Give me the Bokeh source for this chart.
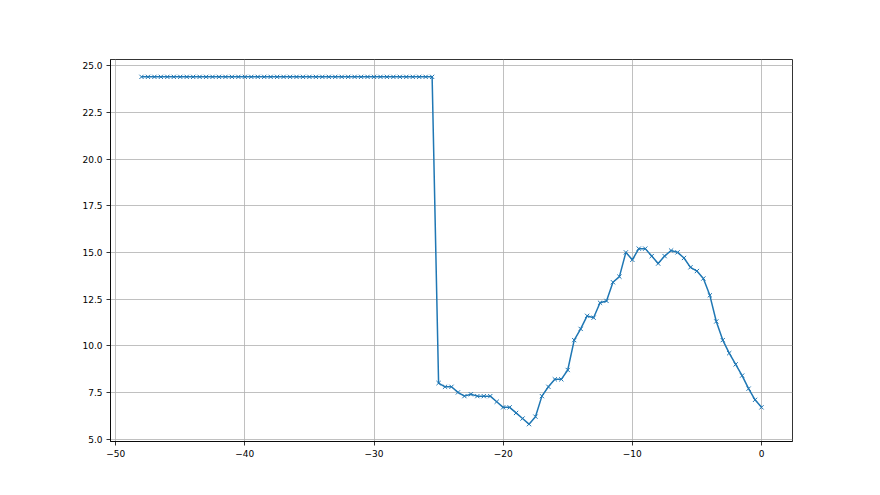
from bokeh.plotting import figure
from bokeh.models import FixedTicker, Range1d
from bokeh.embed import file_html
from bokeh.resources import INLINE

# data
flat_x = [-48 + 0.5 * i for i in range(46)]
flat_y = [24.4] * 46
tail_x = [-25 + 0.5 * i for i in range(51)]
tail_y = [8.0, 7.8, 7.8, 7.5, 7.3, 7.4, 7.3, 7.3, 7.3, 7.0,
          6.7, 6.7, 6.4, 6.1, 5.8, 6.2, 7.3, 7.8, 8.2, 8.2,
          8.7, 10.3, 10.9, 11.6, 11.5, 12.3, 12.4, 13.4, 13.7, 15.0,
          14.6, 15.2, 15.2, 14.8, 14.4, 14.8, 15.1, 15.0, 14.7, 14.2,
          14.0, 13.6, 12.7, 11.3, 10.3, 9.6, 9.0, 8.4, 7.7, 7.1,
          6.7]
x = flat_x + tail_x
y = flat_y + tail_y

x_ticks = [-50, -40, -30, -20, -10, 0]
y_ticks = [5.0, 7.5, 10.0, 12.5, 15.0, 17.5, 20.0, 22.5, 25.0]

xmin, xmax = min(x), max(x)
ymin, ymax = min(y), max(y)
mx = (xmax - xmin) * 0.05
my = (ymax - ymin) * 0.05

p = figure(output_backend="svg", toolbar_location=None,
           frame_width=682, frame_height=382,
           min_border_left=110, min_border_right=72,
           min_border_top=59, min_border_bottom=40,
           x_range=Range1d(xmin - mx, xmax + mx),
           y_range=Range1d(ymin - my, ymax + my))

p.outline_line_color = "black"
p.outline_line_width = 0.8
p.background_fill_color = "white"
p.border_fill_color = "white"

for ax in (p.xaxis[0], p.yaxis[0]):
    ax.axis_line_color = "black"
    ax.axis_line_width = 0.8
    ax.major_tick_line_color = "black"
    ax.major_tick_line_width = 0.8
    ax.major_tick_out = 4
    ax.major_tick_in = 0
    ax.minor_tick_line_color = None
    ax.major_label_text_font = "DejaVu Sans"
    ax.major_label_text_font_size = "9px"
    ax.major_label_text_color = "black"
    ax.major_label_standoff = 4

p.xaxis.ticker = FixedTicker(ticks=x_ticks)
p.yaxis.ticker = FixedTicker(ticks=y_ticks)
p.xaxis.major_label_overrides = {t: str(t).replace("-", "\u2212") for t in x_ticks}
p.yaxis.major_label_overrides = {t: f"{t:.1f}" for t in y_ticks}

for g in (p.xgrid[0], p.ygrid[0]):
    g.grid_line_color = "#b0b0b0"
    g.grid_line_width = 0.8
p.xgrid.ticker = FixedTicker(ticks=x_ticks)
p.ygrid.ticker = FixedTicker(ticks=y_ticks)

p.line(x, y, line_color="#1f77b4", line_width=1.5)
p.scatter(x, y, marker="x", size=6, line_color="#1f77b4", line_width=1)

open("out.html", "w").write(file_html(p, INLINE))
